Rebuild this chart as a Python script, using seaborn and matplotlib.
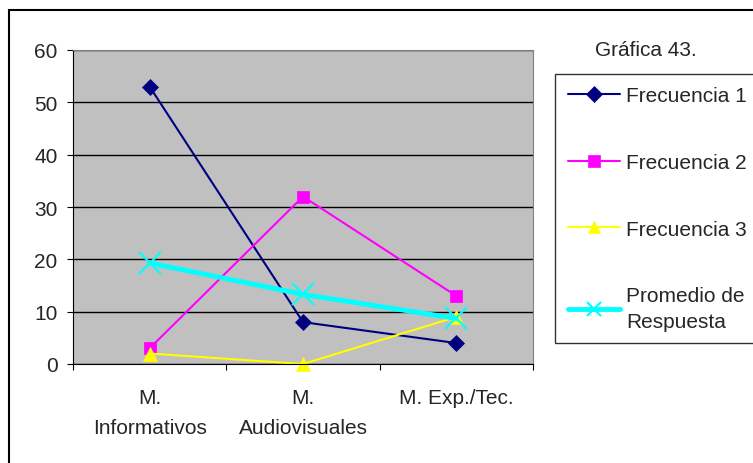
import numpy as np
import pandas as pd
import matplotlib
matplotlib.use("Agg")
import matplotlib.pyplot as plt
import seaborn as sns
from matplotlib.patches import Rectangle

categorias = ["M.\nInformativos", "M.\nAudiovisuales", "M. Exp./Tec."]
frecuencia_1 = [53, 8, 4]
frecuencia_2 = [3, 32, 13]
frecuencia_3 = [2, 0, 9]
promedio = [19.3, 13.3, 8.7]

sns.set_style("white")
plt.rcParams['font.family'] = ['Liberation Sans', 'DejaVu Sans']
FS = 15

fig = plt.figure(figsize=(7.53, 4.64), dpi=100)
# outer frame of the chart (cut on the right and bottom like the original)
fig.patches.append(Rectangle((9/753, -0.5), 2, 1.5 - 11/464, transform=fig.transFigure,
                             fill=False, edgecolor="black", linewidth=1.5, figure=fig))

ax = fig.add_axes([73/753, 1 - 365/464, (533-73)/753, (365-51)/464])
ax.set_facecolor("#C0C0C0")

pos = np.arange(len(categorias))
series = [
    ("Frecuencia 1", frecuencia_1, "#000080", "D", 1.5, 8.5),
    ("Frecuencia 2", frecuencia_2, "#FF00FF", "s", 1.5, 8.5),
    ("Frecuencia 3", frecuencia_3, "#FFFF00", "^", 1.5, 10),
    ("Promedio de\nRespuesta", promedio, "#00FFFF", "x", 3.5, 16),
]
for name, vals, col, mk, lw, ms in series:
    df = pd.DataFrame({"x": pos, "y": vals})
    sns.lineplot(data=df, x="x", y="y", ax=ax, color=col, marker=mk, linewidth=lw,
                 markersize=ms, markeredgecolor=col, markeredgewidth=1.5 if mk == "x" else 0.5,
                 label=name, clip_on=False)

ax.set_xlim(-0.5, 2.5)
ax.set_ylim(0, 60)
ax.set_yticks(range(0, 61, 10))
ax.yaxis.grid(True, color="black", linewidth=1)
ax.set_axisbelow(True)
ax.set_xticks([-0.5, 0.5, 1.5, 2.5])
ax.set_xticklabels([])
ax.set_xticks(pos, minor=True)
ax.set_xticklabels(categorias, minor=True, fontsize=FS, linespacing=1.75)
ax.tick_params(axis="x", which="major", length=4, direction="out", color="black", bottom=True)
ax.tick_params(axis="x", which="minor", length=0, pad=17)
ax.tick_params(axis="y", length=4, direction="out", color="black", left=True, labelsize=FS, pad=7)
ax.set_xlabel("")
ax.set_ylabel("")
for s in ["left", "bottom"]:
    ax.spines[s].set_color("black")
for s in ["top", "right"]:
    ax.spines[s].set_color("#808080")

fig.text(646/753, 1 - 50/464, "Gráfica 43.", ha="center", va="center", fontsize=FS)

ax.legend_.remove()
h, l = ax.get_legend_handles_labels()
leg = fig.legend(h, l, loc="upper left", bbox_to_anchor=(555/753, 1 - 75/464),
                 frameon=True, fancybox=False, fontsize=FS, labelspacing=2.28,
                 handlelength=2.5, borderpad=0.6, borderaxespad=0, handletextpad=0.3)
leg.get_frame().set_edgecolor("black")
leg.get_frame().set_linewidth(1)
for t in leg.get_texts():
    t.set_linespacing(1.44)
leg.legend_handles[3].set_markersize(10)
leg.legend_handles[2].set_markersize(9)

fig.savefig("out.png", dpi=100)
